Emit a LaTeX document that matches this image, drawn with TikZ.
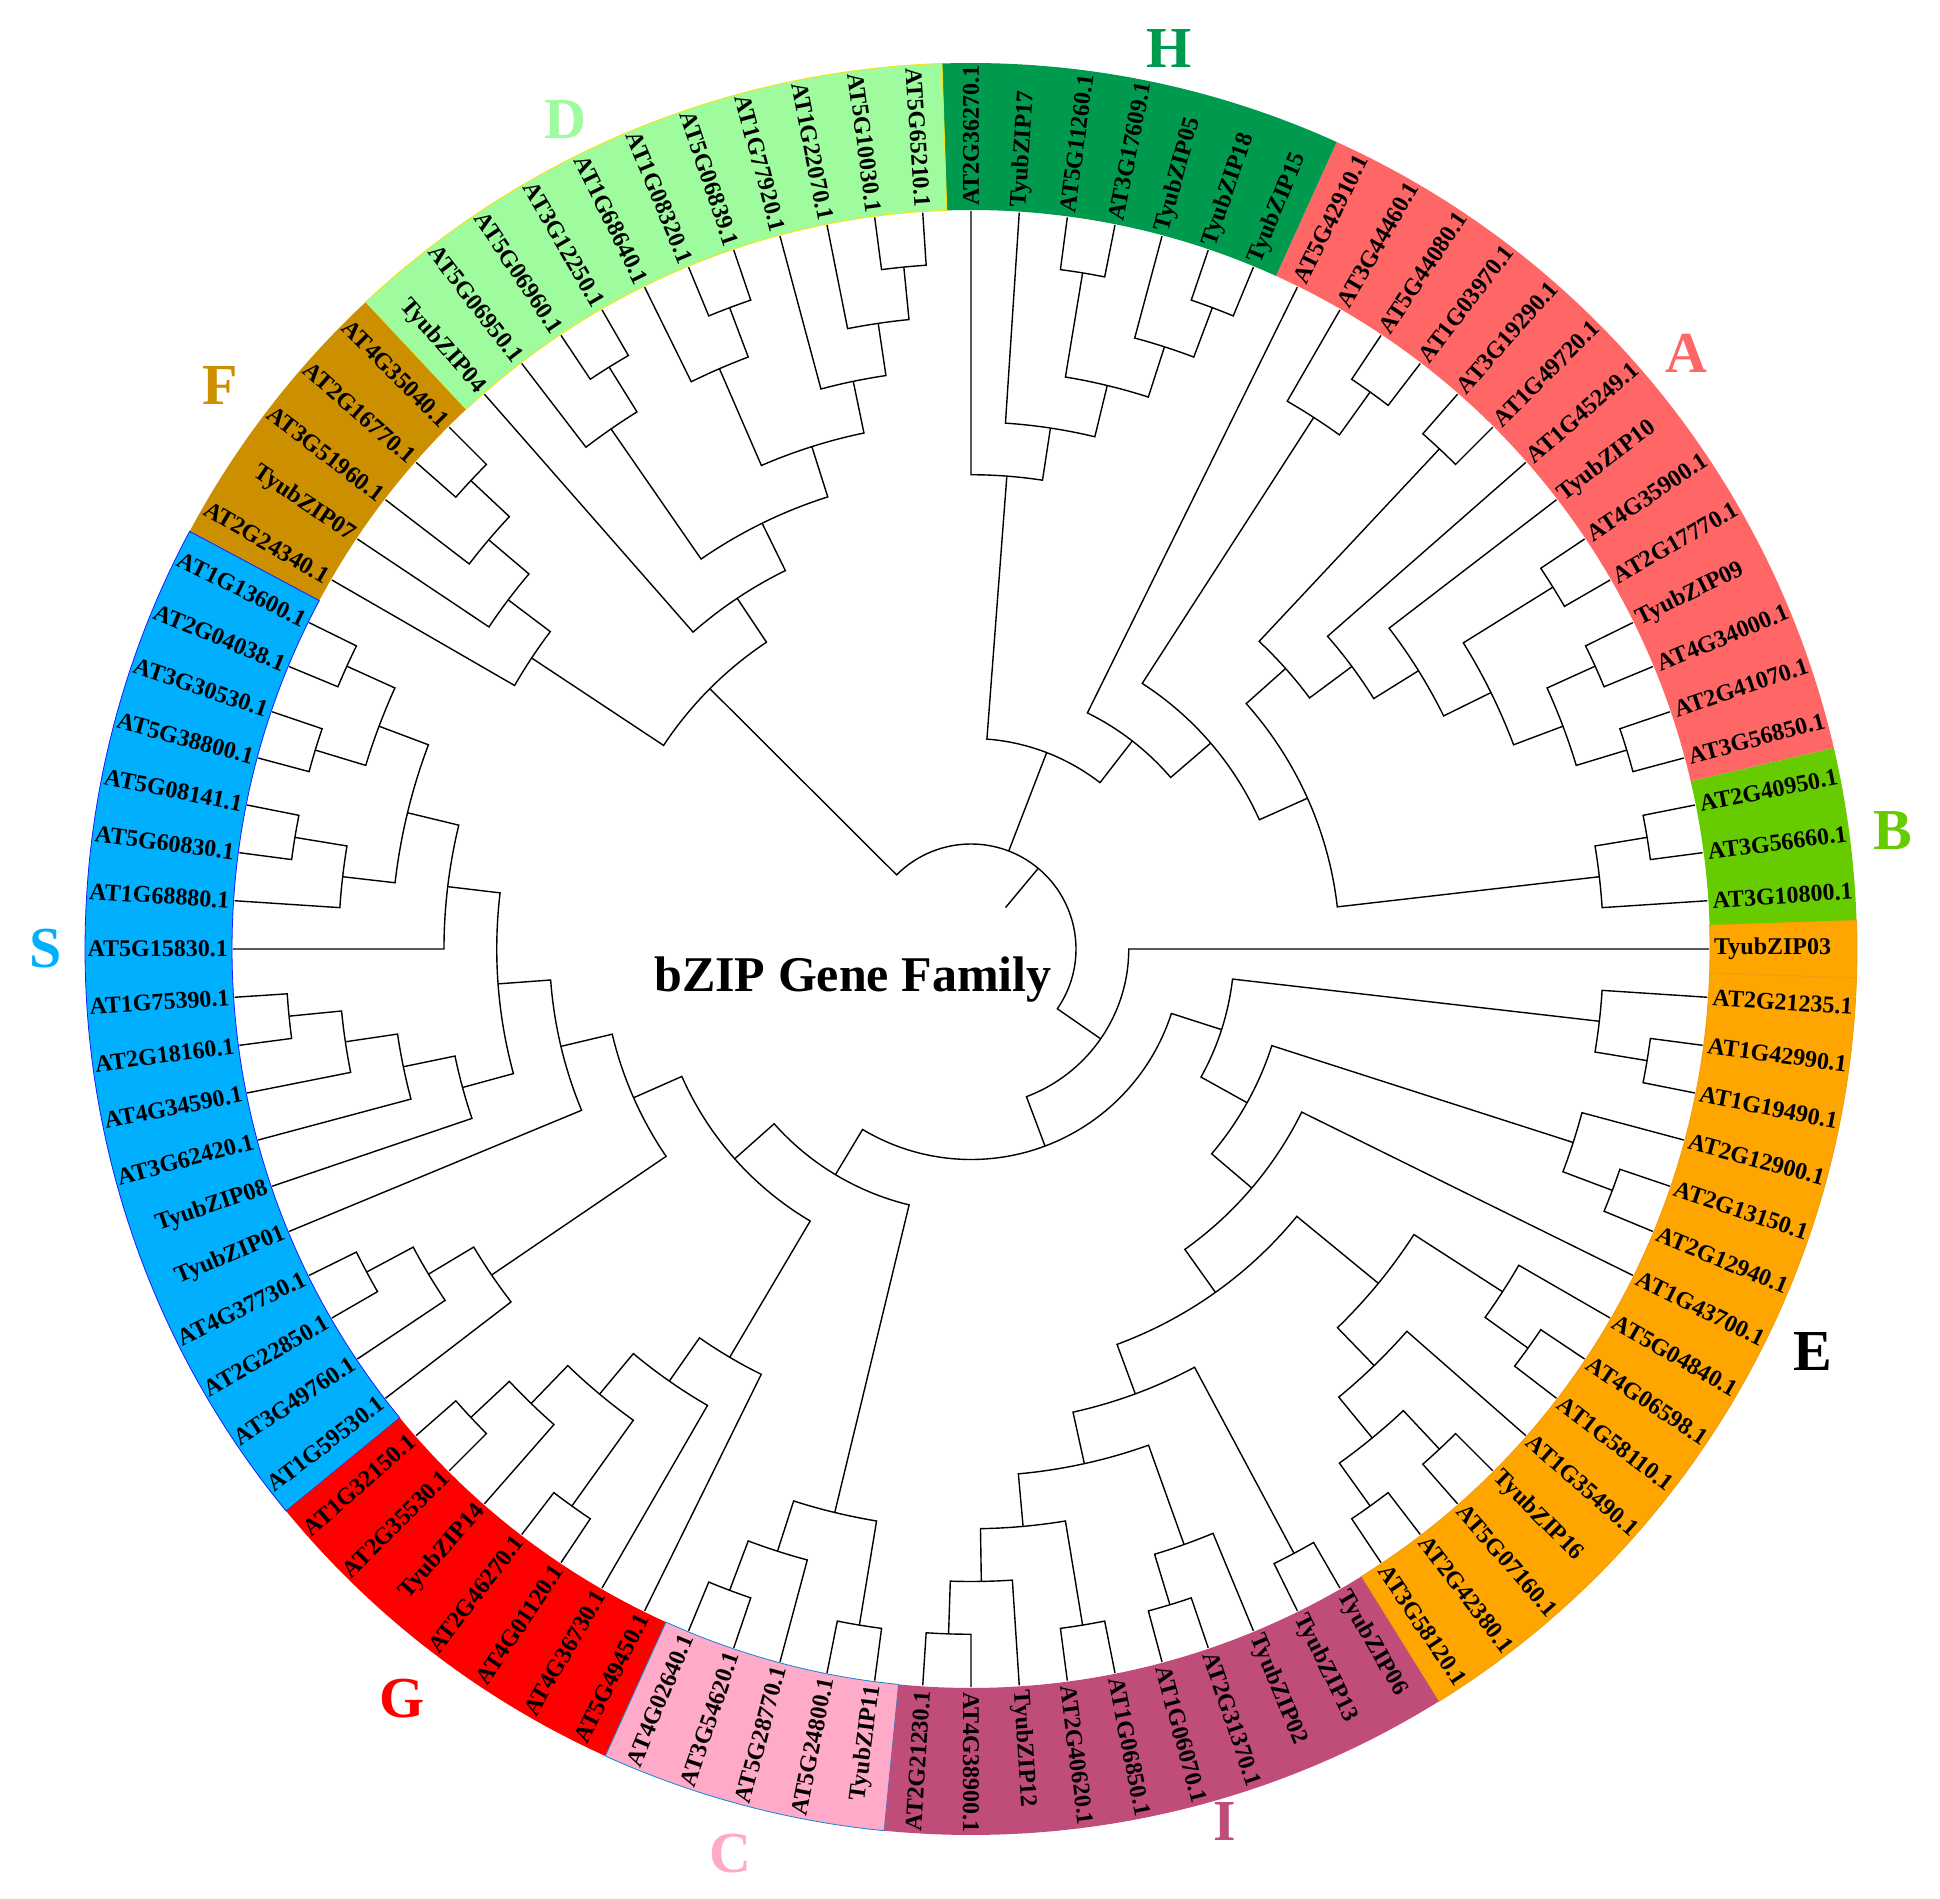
\documentclass[tikz,border=0pt]{standalone}
\usepackage{fontspec}
\setmainfont{Liberation Serif}
\definecolor{colA}{RGB}{255,102,102}
\definecolor{colB}{RGB}{102,204,0}
\definecolor{colH}{RGB}{0,154,78}
\definecolor{colD}{RGB}{158,252,158}
\definecolor{colF}{RGB}{204,143,0}
\definecolor{colS}{RGB}{0,176,255}
\definecolor{colG}{RGB}{255,0,0}
\definecolor{colC}{RGB}{255,170,200}
\definecolor{colI}{RGB}{192,76,122}
\definecolor{colE}{RGB}{255,165,0}
\newcommand\rbase{105}
\newcommand\rstep{52.75}
\newcommand\setang[2]{\expandafter\xdef\csname A@#1\endcsname{#2}}
\newcommand\setlev[2]{\expandafter\xdef\csname L@#1\endcsname{#2}}
% clade: name, level, child1 (smaller angle), child2 (larger angle)
\newcommand\clade[4]{%
  \edef\cA{\csname A@#3\endcsname}%
  \edef\cB{\csname A@#4\endcsname}%
  \edef\lA{\csname L@#3\endcsname}%
  \edef\lB{\csname L@#4\endcsname}%
  \pgfmathsetmacro\cR{\rbase+\rstep*#2}%
  \pgfmathsetmacro\cRA{\rbase+\rstep*\lA}%
  \pgfmathsetmacro\cRB{\rbase+\rstep*\lB}%
  \draw[branch] (\cA:\cRA pt) -- (\cA:\cR pt) arc[start angle=\cA, end angle=\cB, radius=\cR pt] -- (\cB:\cRB pt);
  \pgfmathsetmacro\cM{(\cA+\cB)/2}%
  \setang{#1}{\cM}\setlev{#1}{#2}%
  \coordinate (#1) at (\cM:\cR pt);
}
\newcommand\sector[3]{%
  \path[#3] (#1:739pt) arc[start angle=#1, end angle=#2, radius=739pt] -- (#2:886pt) arc[start angle=#2, end angle=#1, radius=886pt] -- cycle;}
\tikzset{
  branch/.style={black, line width=1.4pt},
  lab/.style={inner sep=0pt, font=\fontsize{24}{25}\selectfont\bfseries},
  grp/.style={inner sep=0pt, font=\fontsize{58}{60}\selectfont\bfseries},
  ttl/.style={inner sep=0pt, font=\fontsize{50}{55}\selectfont\bfseries}
}
\begin{document}
\begin{tikzpicture}[x=1pt,y=1pt]
\useasboundingbox[fill=white] (-971pt,-949pt) rectangle (969pt,949pt);
% ring sectors
\sector{-1.875}{1.875}{fill=colE, draw=colE!75!brown, line width=0.8pt}
\sector{301.875}{358.125}{fill=colE, draw=colE!75!brown, line width=0.8pt}
\sector{1.875}{13.125}{fill=colB}
\sector{13.125}{65.625}{fill=colA}
\sector{65.625}{91.875}{fill=colH}
\sector{91.875}{133.125}{fill=colD, draw=yellow!85!orange, line width=0.8pt}
\sector{133.125}{151.875}{fill=colF}
\sector{151.875}{219.375}{fill=colS, draw=blue!90, line width=0.8pt}
\sector{219.375}{245.625}{fill=colG}
\sector{245.625}{264.375}{fill=colC, draw=cyan!70!blue, line width=0.8pt}
\sector{264.375}{301.875}{fill=colI}
% leaves
\foreach \i in {1,...,95} {\pgfmathsetmacro\la{3.75*\i}\setang{l\i}{\la}\setlev{l\i}{12}}
\setang{l0}{360}\setlev{l0}{12}
% B
\clade{b23}{11}{l2}{l3}
\clade{Bc}{10}{l1}{b23}
% A
\clade{a45}{11}{l4}{l5}
\clade{a67}{11}{l6}{l7}
\clade{a4567}{10}{a45}{a67}
\clade{a89}{11}{l8}{l9}
\clade{a49}{9}{a4567}{a89}
\clade{a410}{8}{a49}{l10}
\clade{a411}{7}{a410}{l11}
\clade{a1213}{11}{l12}{l13}
\clade{Aroot}{6}{a411}{a1213}
\clade{PAB}{5}{Bc}{Aroot}
\clade{a1415}{11}{l14}{l15}
\clade{a1416}{10}{a1415}{l16}
\clade{nX}{4}{PAB}{a1416}
\clade{nY}{3}{nX}{l17}
% H
\clade{h1819}{11}{l18}{l19}
\clade{h1820}{10}{h1819}{l20}
\clade{h2122}{11}{l21}{l22}
\clade{h1822}{9}{h1820}{h2122}
\clade{h1823}{8}{h1822}{l23}
\clade{Hc}{7}{h1823}{l24}
\clade{N2}{2}{nY}{Hc}
% D
\clade{d2526}{11}{l25}{l26}
\clade{d2527}{10}{d2526}{l27}
\clade{d2528}{9}{d2527}{l28}
\clade{d2930}{11}{l29}{l30}
\clade{d2931}{10}{d2930}{l31}
\clade{d2531}{8}{d2528}{d2931}
\clade{d3233}{11}{l32}{l33}
\clade{d3234}{10}{d3233}{l34}
\clade{d2534}{7}{d2531}{d3234}
\clade{Dc}{6}{d2534}{l35}
% F
\clade{f3637}{11}{l36}{l37}
\clade{f3638}{10}{f3637}{l38}
\clade{f3639}{9}{f3638}{l39}
\clade{Fc}{8}{f3639}{l40}
\clade{N1}{5}{Dc}{Fc}
% S
\clade{s4142}{11}{l41}{l42}
\clade{s4344}{11}{l43}{l44}
\clade{s4144}{10}{s4142}{s4344}
\clade{s4546}{11}{l45}{l46}
\clade{s4547}{10}{s4546}{l47}
\clade{s4147}{9}{s4144}{s4547}
\clade{s4148}{8}{s4147}{l48}
\clade{s4950}{11}{l49}{l50}
\clade{s4951}{10}{s4950}{l51}
\clade{s4952}{9}{s4951}{l52}
\clade{s4953}{8}{s4952}{l53}
\clade{N9}{7}{s4148}{s4953}
\clade{N8}{6}{N9}{l54}
\clade{s5556}{11}{l55}{l56}
\clade{s5557}{10}{s5556}{l57}
\clade{s5558}{9}{s5557}{l58}
\clade{N7}{5}{N8}{s5558}
% G
\clade{g5960}{11}{l59}{l60}
\clade{g5961}{10}{g5960}{l61}
\clade{g6263}{11}{l62}{l63}
\clade{g5963}{9}{g5961}{g6263}
\clade{g5964}{8}{g5963}{l64}
\clade{Gc}{7}{g5964}{l65}
\clade{N6}{4}{N7}{Gc}
% C
\clade{c6667}{11}{l66}{l67}
\clade{c6668}{10}{c6667}{l68}
\clade{c6970}{11}{l69}{l70}
\clade{Cc}{9}{c6668}{c6970}
\clade{N5}{3}{N6}{Cc}
% I
\clade{i7172}{11}{l71}{l72}
\clade{i7173}{10}{i7172}{l73}
\clade{i7475}{11}{l74}{l75}
\clade{i7175}{9}{i7173}{i7475}
\clade{i7677}{11}{l76}{l77}
\clade{i7678}{10}{i7677}{l78}
\clade{i7178}{8}{i7175}{i7678}
\clade{i7980}{11}{l79}{l80}
\clade{Ic}{7}{i7178}{i7980}
% E
\clade{e8182}{11}{l81}{l82}
\clade{e8384}{11}{l83}{l84}
\clade{e8184}{10}{e8182}{e8384}
\clade{e8185}{9}{e8184}{l85}
\clade{e8687}{11}{l86}{l87}
\clade{e8688}{10}{e8687}{l88}
\clade{e8188}{8}{e8185}{e8688}
\clade{n424}{6}{Ic}{e8188}
\clade{n370}{5}{n424}{l89}
\clade{e9091}{11}{l90}{l91}
\clade{e9092}{10}{e9091}{l92}
\clade{n318}{4}{n370}{e9092}
\clade{e9394}{11}{l93}{l94}
\clade{e9395}{10}{e9394}{l95}
\clade{n265}{3}{n318}{e9395}
\clade{N4}{2}{N5}{n265}
\clade{N3}{1}{N4}{l0}
% root
\edef\aNthree{\csname A@N3\endcsname}
\edef\aNone{\csname A@N1\endcsname}
\edef\aNtwo{\csname A@N2\endcsname}
\pgfmathsetmacro\aRs{\aNthree-360}
\pgfmathsetmacro\rOne{\rbase+\rstep}
\pgfmathsetmacro\rTwo{\rbase+2*\rstep}
\pgfmathsetmacro\rFive{\rbase+5*\rstep}
\pgfmathsetmacro\aRoot{(\aRs+\aNone)/2}
\draw[branch] (\aRs:\rOne pt) -- (\aRs:\rbase pt) arc[start angle=\aRs, end angle=\aNone, radius=\rbase pt] -- (\aNone:\rFive pt);
\draw[branch] (\aNtwo:\rbase pt) -- (\aNtwo:\rTwo pt);
\draw[branch] (\aRoot:54pt) -- (\aRoot:\rbase pt);
\coordinate (root) at (\aRoot:\rbase pt);
% labels
\foreach \nm [count=\k from 0] in {TyubZIP03,AT3G10800.1,AT3G56660.1,AT2G40950.1,AT3G56850.1,AT2G41070.1,AT4G34000.1,TyubZIP09,AT2G17770.1,AT4G35900.1,TyubZIP10,AT1G45249.1,AT1G49720.1,AT3G19290.1,AT1G03970.1,AT5G44080.1,AT3G44460.1,AT5G42910.1,TyubZIP15,TyubZIP18,TyubZIP05,AT3G17609.1,AT5G11260.1,TyubZIP17,AT2G36270.1,AT5G65210.1,AT5G10030.1,AT1G22070.1,AT1G77920.1,AT5G06839.1,AT1G08320.1,AT1G68640.1,AT3G12250.1,AT5G06960.1,AT5G06950.1,TyubZIP04,AT4G35040.1,AT2G16770.1,AT3G51960.1,TyubZIP07,AT2G24340.1,AT1G13600.1,AT2G04038.1,AT3G30530.1,AT5G38800.1,AT5G08141.1,AT5G60830.1,AT1G68880.1,AT5G15830.1,AT1G75390.1,AT2G18160.1,AT4G34590.1,AT3G62420.1,TyubZIP08,TyubZIP01,AT4G37730.1,AT2G22850.1,AT3G49760.1,AT1G59530.1,AT1G32150.1,AT2G35530.1,TyubZIP14,AT2G46270.1,AT4G01120.1,AT4G36730.1,AT5G49450.1,AT4G02640.1,AT3G54620.1,AT5G28770.1,AT5G24800.1,TyubZIP11,AT2G21230.1,AT4G38900.1,TyubZIP12,AT2G40620.1,AT1G06850.1,AT1G06070.1,AT2G31370.1,TyubZIP02,TyubZIP13,TyubZIP06,AT3G58120.1,AT2G42380.1,AT5G07160.1,TyubZIP16,AT1G35490.1,AT1G58110.1,AT4G06598.1,AT5G04840.1,AT1G43700.1,AT2G12940.1,AT2G13150.1,AT2G12900.1,AT1G19490.1,AT1G42990.1,AT2G21235.1} {
  \pgfmathsetmacro\la{3.75*\k}
  \pgfmathtruncatemacro\flip{(\la>90)*(\la<270)}
  \ifnum\flip=1
    \node[lab, anchor=east, rotate=\la-180] (t\k) at (\la:743pt) {\nm};
  \else
    \node[lab, anchor=west, rotate=\la] (t\k) at (\la:743pt) {\nm};
  \fi
}
% group letters
\node[grp, text=colH] (gH) at (198pt,900pt) {H};
\node[grp, text=colA] (gA) at (715pt,596pt) {A};
\node[grp, text=colB] (gB) at (922pt,118pt) {B};
\node[grp, text=black] (gE) at (842pt,-403pt) {E};
\node[grp, text=colI] (gI) at (254pt,-872pt) {I};
\node[grp, text=colC] (gC) at (-241pt,-905pt) {C};
\node[grp, text=colG] (gG) at (-569pt,-750pt) {G};
\node[grp, text=colS] (gS) at (-925pt,0pt) {S};
\node[grp, text=colF] (gF) at (-751pt,563pt) {F};
\node[grp, text=colD] (gD) at (-406pt,829pt) {D};
% title
\node[ttl] (title) at (-118pt,-31pt) {bZIP Gene Family};
\end{tikzpicture}
\end{document}
